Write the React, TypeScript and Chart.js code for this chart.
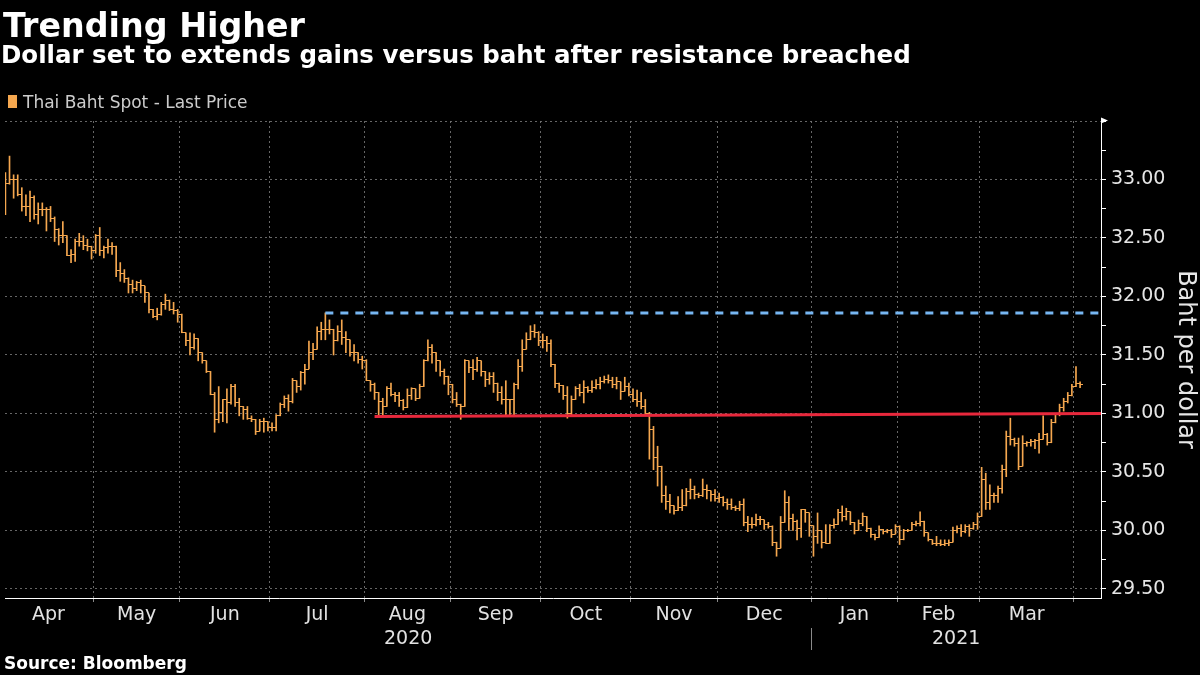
import React, { useEffect, useRef } from 'react';
import { Chart, registerables } from 'chart.js';

Chart.register(...registerables);

// Each bar: [open, high, low, close] — USD/THB daily
type Bar = [number, number, number, number];

const apr2020: Bar[] = [
  [32.80,33.06,32.70,32.97],[32.97,33.20,32.96,33.00],[33.00,33.04,32.84,33.00],[33.00,33.04,32.86,32.87],
  [32.87,32.93,32.73,32.77],[32.77,32.87,32.69,32.77],[32.77,32.90,32.64,32.85],[32.85,32.86,32.66,32.70],
  [32.70,32.80,32.62,32.74],[32.74,32.80,32.69,32.74],[32.74,32.76,32.56,32.74],[32.74,32.77,32.64,32.67],
  [32.67,32.68,32.47,32.57],[32.57,32.58,32.44,32.52],[32.52,32.64,32.46,32.52],[32.52,32.52,32.35,32.35],
  [32.35,32.40,32.29,32.36],[32.36,32.49,32.30,32.47],[32.47,32.54,32.43,32.47],[32.47,32.52,32.40,32.44],
  [32.44,32.49,32.39,32.43],[32.43,32.43,32.32,32.39],
];
const may2020: Bar[] = [
  [32.39,32.53,32.37,32.52],[32.52,32.59,32.35,32.39],[32.39,32.43,32.33,32.42],[32.42,32.49,32.37,32.43],
  [32.43,32.46,32.36,32.43],[32.43,32.43,32.17,32.22],[32.22,32.29,32.13,32.20],[32.20,32.23,32.12,32.15],
  [32.15,32.16,32.03,32.10],[32.10,32.14,32.03,32.07],[32.07,32.13,32.05,32.12],[32.12,32.14,32.03,32.09],
  [32.09,32.09,31.95,32.03],[32.03,32.03,31.86,31.89],[31.89,31.89,31.82,31.83],[31.83,31.90,31.80,31.85],
  [31.85,31.95,31.84,31.93],[31.93,32.02,31.89,31.97],[31.97,31.97,31.88,31.89],[31.89,31.95,31.85,31.88],
  [31.88,31.89,31.78,31.85],
];
const jun2020: Bar[] = [
  [31.85,31.85,31.69,31.69],[31.69,31.69,31.58,31.62],[31.62,31.69,31.50,31.56],[31.56,31.68,31.55,31.64],
  [31.64,31.64,31.45,31.52],[31.52,31.52,31.43,31.45],[31.45,31.45,31.35,31.36],[31.36,31.36,31.16,31.16],
  [31.16,31.18,30.84,30.95],[30.95,31.23,30.92,31.01],[31.01,31.12,30.93,31.12],[31.12,31.21,30.92,31.09],
  [31.09,31.25,31.08,31.23],[31.23,31.25,31.06,31.09],[31.09,31.13,30.98,31.06],[31.06,31.06,30.95,31.03],
  [31.03,31.06,30.95,30.96],[30.96,30.98,30.93,30.95],[30.95,30.95,30.82,30.85],[30.85,30.95,30.85,30.93],
  [30.93,30.96,30.84,30.93],[30.93,30.93,30.85,30.88],
];
const jul2020: Bar[] = [
  [30.88,30.92,30.85,30.88],[30.88,30.99,30.85,30.98],[30.98,31.09,30.98,31.08],[31.08,31.15,31.05,31.13],
  [31.13,31.16,31.02,31.10],[31.10,31.30,31.09,31.28],[31.28,31.28,31.18,31.23],[31.23,31.36,31.20,31.35],
  [31.35,31.42,31.25,31.38],[31.38,31.62,31.38,31.52],[31.52,31.60,31.46,31.55],[31.55,31.74,31.55,31.70],
  [31.70,31.78,31.63,31.72],[31.72,31.86,31.63,31.72],[31.72,31.80,31.68,31.72],[31.72,31.72,31.50,31.62],
  [31.62,31.75,31.62,31.70],[31.70,31.80,31.59,31.65],[31.65,31.70,31.52,31.63],[31.63,31.63,31.49,31.52],
  [31.52,31.59,31.45,31.52],[31.52,31.52,31.43,31.46],[31.46,31.49,31.38,31.45],
];
const aug2020: Bar[] = [
  [31.45,31.46,31.28,31.28],[31.28,31.28,31.19,31.25],[31.25,31.26,31.12,31.18],[31.18,31.18,30.98,31.10],
  [31.10,31.13,30.99,31.06],[31.06,31.23,31.06,31.21],[31.21,31.26,31.15,31.16],[31.16,31.18,31.10,31.15],
  [31.15,31.18,31.06,31.11],[31.11,31.12,31.03,31.05],[31.05,31.21,31.05,31.15],[31.15,31.22,31.12,31.21],
  [31.21,31.21,31.11,31.13],[31.13,31.25,31.13,31.23],[31.23,31.46,31.23,31.45],[31.45,31.63,31.45,31.56],
  [31.56,31.59,31.43,31.52],[31.52,31.52,31.36,31.45],[31.45,31.45,31.32,31.36],[31.36,31.38,31.25,31.32],
  [31.32,31.32,31.16,31.25],
];
const sep2020: Bar[] = [
  [31.25,31.25,31.09,31.12],[31.12,31.18,31.06,31.08],[31.08,31.08,30.95,31.06],[31.06,31.46,31.06,31.45],
  [31.45,31.45,31.35,31.39],[31.39,31.46,31.29,31.38],[31.38,31.48,31.36,31.45],[31.45,31.45,31.32,31.36],
  [31.36,31.36,31.23,31.29],[31.29,31.35,31.25,31.32],[31.32,31.35,31.18,31.26],[31.26,31.26,31.11,31.18],
  [31.18,31.23,31.08,31.12],[31.12,31.28,30.99,31.12],[31.12,31.12,30.98,31.12],[31.12,31.26,30.99,31.25],
  [31.25,31.46,31.21,31.40],[31.40,31.63,31.36,31.55],[31.55,31.69,31.55,31.63],[31.63,31.75,31.63,31.70],
  [31.70,31.76,31.65,31.69],[31.69,31.70,31.58,31.62],
];
const oct2020: Bar[] = [
  [31.62,31.68,31.56,31.62],[31.62,31.66,31.53,31.60],[31.60,31.63,31.40,31.42],[31.42,31.42,31.22,31.26],
  [31.26,31.26,31.18,31.24],[31.24,31.24,31.12,31.15],[31.15,31.23,30.96,31.00],[31.00,31.15,30.98,31.12],
  [31.12,31.23,31.12,31.21],[31.21,31.25,31.15,31.18],[31.18,31.28,31.09,31.22],[31.22,31.23,31.18,31.20],
  [31.20,31.28,31.18,31.22],[31.22,31.29,31.21,31.25],[31.25,31.31,31.21,31.27],[31.27,31.32,31.26,31.29],
  [31.29,31.33,31.26,31.28],[31.28,31.31,31.22,31.25],[31.25,31.31,31.21,31.27],[31.27,31.27,31.12,31.19],
  [31.19,31.31,31.19,31.23],[31.23,31.26,31.15,31.16],
];
const nov2020: Bar[] = [
  [31.16,31.21,31.10,31.12],[31.12,31.20,31.06,31.10],[31.10,31.18,31.04,31.06],[31.06,31.12,30.98,31.00],
  [31.00,31.01,30.61,30.86],[30.86,30.89,30.52,30.62],[30.62,30.72,30.38,30.55],[30.55,30.55,30.24,30.30],
  [30.30,30.38,30.18,30.25],[30.25,30.31,30.15,30.21],[30.21,30.21,30.14,30.17],[30.17,30.29,30.17,30.20],
  [30.20,30.35,30.17,30.21],[30.21,30.36,30.21,30.33],[30.33,30.44,30.27,30.35],[30.35,30.38,30.27,30.31],
  [30.31,30.32,30.28,30.30],[30.30,30.44,30.29,30.35],[30.35,30.39,30.27,30.34],[30.34,30.34,30.25,30.31],
  [30.31,30.35,30.25,30.27],
];
const dec2020: Bar[] = [
  [30.27,30.32,30.24,30.28],[30.28,30.29,30.21,30.24],[30.24,30.27,30.18,30.22],[30.22,30.27,30.18,30.20],
  [30.20,30.21,30.17,30.19],[30.19,30.25,30.17,30.22],[30.22,30.27,30.04,30.07],[30.07,30.12,29.99,30.05],
  [30.05,30.11,30.02,30.05],[30.05,30.14,30.04,30.09],[30.09,30.12,30.05,30.09],[30.09,30.09,30.01,30.05],
  [30.05,30.07,30.02,30.03],[30.03,30.04,29.87,29.90],[29.90,29.90,29.78,29.85],[29.85,30.12,29.85,30.07],
  [30.07,30.34,30.07,30.24],[30.24,30.29,30.00,30.10],[30.10,30.14,30.00,30.08],[30.08,30.09,29.92,30.02],
  [30.02,30.18,29.94,30.18],[30.18,30.18,30.07,30.15],[30.15,30.15,29.95,30.04],
];
const jan2021: Bar[] = [
  [30.04,30.04,29.78,29.95],[29.95,30.15,29.89,30.00],[30.00,30.00,29.85,29.90],[29.90,30.05,29.89,29.89],
  [29.89,30.05,29.89,30.04],[30.04,30.10,30.02,30.05],[30.05,30.18,30.05,30.15],[30.15,30.21,30.08,30.12],
  [30.12,30.19,30.09,30.16],[30.16,30.16,30.05,30.07],[30.07,30.07,29.97,30.00],[30.00,30.09,30.00,30.06],
  [30.06,30.15,30.04,30.12],[30.12,30.12,29.99,30.02],[30.02,30.02,29.94,29.97],[29.97,29.97,29.92,29.94],
  [29.94,30.04,29.94,30.01],[30.01,30.01,29.97,29.99],[29.99,30.01,29.98,30.00],[30.00,30.01,29.94,29.97],
  [29.97,30.05,29.97,30.03],
];
const feb2021: Bar[] = [
  [30.03,30.04,29.88,29.92],[29.92,30.01,29.92,30.00],[30.00,30.01,29.99,30.00],[30.00,30.07,30.00,30.05],
  [30.05,30.08,30.04,30.06],[30.06,30.16,30.04,30.08],[30.08,30.08,29.95,29.98],[29.98,29.98,29.91,29.92],
  [29.92,29.92,29.88,29.89],[29.89,29.95,29.87,29.89],[29.89,29.92,29.87,29.88],[29.88,29.92,29.87,29.89],
  [29.89,29.92,29.87,29.90],[29.90,30.03,29.90,30.00],[30.00,30.04,29.98,30.02],[30.02,30.05,29.95,29.99],
  [29.99,30.05,29.98,30.03],[30.03,30.05,29.95,30.02],[30.02,30.07,30.01,30.05],[30.05,30.15,30.01,30.12],
];
const mar2021: Bar[] = [
  [30.12,30.54,30.12,30.44],[30.44,30.49,30.18,30.24],[30.24,30.39,30.18,30.30],[30.30,30.32,30.24,30.30],
  [30.30,30.38,30.24,30.36],[30.36,30.56,30.32,30.52],[30.52,30.85,30.46,30.80],[30.80,30.96,30.73,30.78],
  [30.78,30.79,30.72,30.74],[30.74,30.79,30.52,30.55],[30.55,30.81,30.55,30.74],[30.74,30.76,30.72,30.75],
  [30.75,30.78,30.72,30.76],[30.76,30.78,30.70,30.77],[30.77,30.83,30.66,30.78],[30.78,30.98,30.78,30.82],
  [30.82,30.83,30.73,30.75],[30.75,30.95,30.75,30.92],[30.92,31.00,30.92,31.00],[31.00,31.08,30.98,31.05],
  [31.05,31.13,31.02,31.10],[31.10,31.18,31.09,31.15],[31.15,31.25,31.15,31.23],
];
const apr2021: Bar[] = [
  [31.23,31.40,31.23,31.26],[31.26,31.27,31.22,31.25],
];

const monthBars: Bar[][] = [apr2020, may2020, jun2020, jul2020, aug2020, sep2020, oct2020, nov2020, dec2020, jan2021, feb2021, mar2021, apr2021];
const monthLabels = ['Apr', 'May', 'Jun', 'Jul', 'Aug', 'Sep', 'Oct', 'Nov', 'Dec', 'Jan', 'Feb', 'Mar'];
const yearLabels = ['2020', '2021'];
const yearStartMonth = 9; // index of Jan 2021 in monthBars
const yTickValues = [29.5, 29.75, 30, 30.25, 30.5, 30.75, 31, 31.25, 31.5, 31.75, 32, 32.25, 32.5, 32.75, 33, 33.25, 33.5];

// Resistance (blue dashed) and support (red) levels
const resistanceStartBar = 78;
const resistanceLevel = 31.86;
const supportStartBar = 90;
const supportLevels = [30.975, 31.0];

const ORANGE = '#f5a74f';
const GRID = 'rgba(120,120,120,0.85)';
const X_MIN = -0.1;
const X_MAX = 267.1;

export default function App() {
  const ref = useRef<HTMLCanvasElement | null>(null);

  useEffect(() => {
    const canvas = ref.current;
    if (!canvas) return;
    Chart.defaults.font.family = '"DejaVu Sans", sans-serif';

    const bars: Bar[] = monthBars.flat();
    const starts: number[] = [];
    let acc = 0;
    for (const m of monthBars) { starts.push(acc); acc += m.length; }

    const xTickValues: number[] = [];
    const xTickLabels: string[] = [];
    const xTickIsGrid: boolean[] = [];
    for (let m = 0; m < monthLabels.length; m++) {
      const a = starts[m] - 0.5;
      const b = starts[m + 1] - 0.5;
      xTickValues.push((a + b) / 2); xTickLabels.push(monthLabels[m]); xTickIsGrid.push(false);
      xTickValues.push(b); xTickLabels.push(''); xTickIsGrid.push(true);
    }
    const yearBoundary = starts[yearStartMonth] - 0.5;
    const yearTickValues = [(X_MIN + yearBoundary) / 2, yearBoundary, (yearBoundary + X_MAX) / 2];
    const yearTickLabels = [yearLabels[0], '', yearLabels[1]];

    const makeTick = (side: 'left' | 'right') => {
      const c = document.createElement('canvas');
      c.width = 6; c.height = 1;
      const g = c.getContext('2d')!;
      g.fillStyle = ORANGE;
      g.fillRect(side === 'left' ? 0 : 3, 0, 3, 1);
      return c;
    };
    const leftTick = makeTick('left');
    const rightTick = makeTick('right');

    const isMajor = (v: number) => Math.abs(v * 2 - Math.round(v * 2)) < 1e-6;

    const axisArrow = {
      id: 'axisArrow',
      afterDraw(chart: any) {
        const s = chart.scales.y;
        const ctx = chart.ctx;
        ctx.save();
        ctx.fillStyle = '#ffffff';
        ctx.beginPath();
        ctx.moveTo(s.left, s.top - 3.5);
        ctx.lineTo(s.left + 7, s.top - 0.5);
        ctx.lineTo(s.left, s.top + 2.5);
        ctx.closePath();
        ctx.fill();
        ctx.restore();
      },
    };

    const chart = new Chart(canvas, {
      type: 'bar',
      data: {
        datasets: [
          {
            type: 'line',
            label: 'Support',
            data: [{ x: supportStartBar, y: supportLevels[0] }, { x: X_MAX, y: supportLevels[1] }],
            borderColor: '#e8283c',
            borderWidth: 3,
            pointRadius: 0,
            xAxisID: 'x',
            yAxisID: 'y',
            order: 0,
          } as any,
          {
            type: 'line',
            label: 'Resistance',
            data: [{ x: resistanceStartBar, y: resistanceLevel }, { x: X_MAX, y: resistanceLevel }],
            borderColor: '#76b6f2',
            borderWidth: 3,
            borderDash: [8, 7],
            pointRadius: 0,
            xAxisID: 'x',
            yAxisID: 'y',
            order: 1,
          } as any,
          {
            type: 'line',
            label: 'Open',
            data: bars.map((b, i) => ({ x: i, y: b[0] })),
            showLine: false,
            pointStyle: leftTick,
            pointRadius: 2,
            xAxisID: 'x',
            yAxisID: 'y',
            order: 2,
          } as any,
          {
            type: 'line',
            label: 'Close',
            data: bars.map((b, i) => ({ x: i, y: b[3] })),
            showLine: false,
            pointStyle: rightTick,
            pointRadius: 2,
            xAxisID: 'x',
            yAxisID: 'y',
            order: 2,
          } as any,
          {
            type: 'bar',
            label: 'Thai Baht Spot - Last Price',
            data: bars.map((b, i) => ({ x: i, y: [b[2], b[1]] })),
            backgroundColor: ORANGE,
            borderWidth: 0,
            borderSkipped: false,
            barThickness: 1,
            grouped: false,
            xAxisID: 'x',
            yAxisID: 'y',
            order: 3,
          } as any,
        ],
      },
      options: {
        responsive: false,
        devicePixelRatio: 1,
        animation: false,
        events: [],
        layout: { padding: { top: 121, left: 0, right: 0, bottom: 23 } },
        plugins: { legend: { display: false }, tooltip: { enabled: false }, title: { display: false } },
        scales: {
          x: {
            type: 'linear',
            position: 'bottom',
            min: X_MIN,
            max: X_MAX,
            offset: false,
            afterBuildTicks: (s: any) => { s.ticks = xTickValues.map((v) => ({ value: v })); },
            afterFit: (s: any) => { s.height = 30; },
            ticks: {
              autoSkip: false,
              maxRotation: 0,
              minRotation: 0,
              padding: 2,
              color: '#e2e2e2',
              font: { size: 19 },
              callback: (_v: any, i: number) => xTickLabels[i],
            },
            grid: {
              offset: false,
              drawOnChartArea: true,
              drawTicks: true,
              tickLength: 4,
              lineWidth: 1,
              color: (c: any) => (xTickIsGrid[c.index] ? GRID : 'rgba(0,0,0,0)'),
              tickColor: (c: any) => (xTickIsGrid[c.index] ? '#888' : 'rgba(0,0,0,0)'),
            },
            border: { display: true, color: '#ffffff', width: 1, dash: [2, 3] },
          },
          x2: {
            type: 'linear',
            position: 'bottom',
            min: X_MIN,
            max: X_MAX,
            offset: false,
            afterBuildTicks: (s: any) => { s.ticks = yearTickValues.map((v) => ({ value: v })); },
            afterFit: (s: any) => { s.height = 24; },
            ticks: {
              autoSkip: false,
              maxRotation: 0,
              minRotation: 0,
              padding: -22,
              color: '#e2e2e2',
              font: { size: 19 },
              callback: (_v: any, i: number) => yearTickLabels[i],
            },
            grid: {
              offset: false,
              drawOnChartArea: false,
              drawTicks: true,
              tickLength: 22,
              color: 'rgba(0,0,0,0)',
              tickColor: (c: any) => (c.index === 1 ? '#8a8a8a' : 'rgba(0,0,0,0)'),
            },
            border: { display: false },
          },
          y: {
            type: 'linear',
            position: 'right',
            min: 29.423,
            max: 33.5,
            beginAtZero: false,
            afterBuildTicks: (s: any) => { s.ticks = yTickValues.map((v) => ({ value: v })); },
            afterFit: (s: any) => { s.width = 99; },
            ticks: {
              padding: 5,
              color: '#e6e6e6',
              font: { size: 19 },
              callback: (v: any) => (isMajor(Number(v)) && Number(v) < 33.4 ? Number(v).toFixed(2) : ''),
            },
            grid: {
              drawOnChartArea: true,
              drawTicks: true,
              tickLength: 5,
              lineWidth: 1,
              color: (c: any) => (c.tick && isMajor(c.tick.value) ? GRID : 'rgba(0,0,0,0)'),
              tickColor: '#ffffff',
            },
            border: { display: true, color: '#ffffff', width: 1, dash: [2, 3] },
            title: {
              display: true,
              text: 'Baht per dollar',
              color: '#e6e6e6',
              font: { size: 24 },
              padding: 0,
            },
          },
        },
      } as any,
      plugins: [axisArrow],
    });

    return () => chart.destroy();
  }, []);

  return (
    <div
      style={{
        position: 'fixed', left: 0, top: 0, width: 1200, height: 675, background: '#000',
        overflow: 'hidden', fontFamily: '"DejaVu Sans", sans-serif',
      }}
    >
      <canvas ref={ref} width={1200} height={675} style={{ position: 'absolute', left: 0, top: 0, width: 1200, height: 675 }} />
      <div style={{ position: 'absolute', left: 3, top: 8.8, fontSize: 33.3, lineHeight: '33.3px', fontWeight: 'bold', color: '#fff', whiteSpace: 'nowrap' }}>
        Trending Higher
      </div>
      <div style={{ position: 'absolute', left: 1, top: 43, fontSize: 24.5, lineHeight: '24.5px', fontWeight: 'bold', color: '#fff', whiteSpace: 'nowrap' }}>
        Dollar set to extends gains versus baht after resistance breached
      </div>
      <div style={{ position: 'absolute', left: 8, top: 95, width: 9, height: 13, background: ORANGE }} />
      <div style={{ position: 'absolute', left: 23, top: 93.9, fontSize: 17, lineHeight: '17px', color: '#cccccc', whiteSpace: 'nowrap' }}>
        Thai Baht Spot - Last Price
      </div>
      <div style={{ position: 'absolute', left: 4, top: 654.5, fontSize: 17, lineHeight: '17px', fontWeight: 'bold', color: '#fff', whiteSpace: 'nowrap' }}>
        Source: Bloomberg
      </div>
    </div>
  );
}
